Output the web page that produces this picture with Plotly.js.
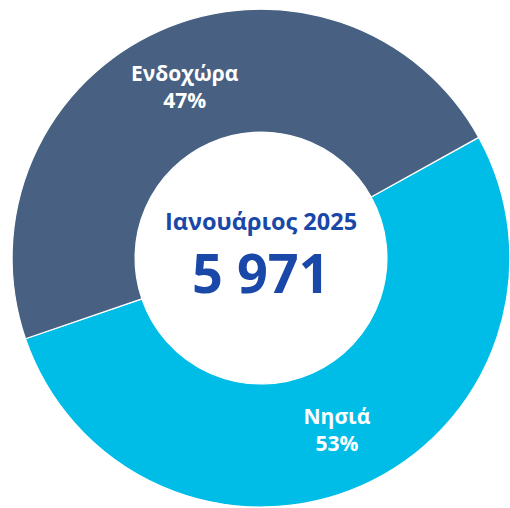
<!DOCTYPE html>
<html>
<head>
<meta charset="utf-8">
<script src="https://cdn.plot.ly/plotly-3.0.1.min.js"></script>
<style>html,body{margin:0;padding:0;background:#fff;}#chart{width:510px;height:508px;}</style>
</head>
<body>
<div id="chart"></div>
<script>
const categories = ["Νησιά", "Ενδοχώρα"];
const values = [3153, 2818];
const colors = ["#00BDE8", "#486183"];
const centerTitle = "Ιανουάριος 2025";
const centerTotal = "5 971";

const trace = {
  type: "pie",
  labels: categories,
  values: values,
  hole: 0.506,
  sort: false,
  direction: "clockwise",
  rotation: 61,
  marker: { colors: colors, line: { color: "#ffffff", width: 1.2 } },
  texttemplate: "%{label}<br>%{percent:.0%}",
  textposition: "inside",
  insidetextorientation: "horizontal",
  textfont: { family: "Open Sans, sans-serif", size: 21, color: "#ffffff", weight: "bold" },
  hoverinfo: "none",
  domain: { x: [0.0235, 1.0], y: [0.002, 0.982] }
};

const layout = {
  width: 510, height: 508,
  margin: { l: 0, r: 0, t: 0, b: 0 },
  paper_bgcolor: "#ffffff",
  showlegend: false,
  uniformtext: { mode: "show", minsize: 21 },
  annotations: [
    { text: centerTitle, x: 261/510, y: 1 - 221/508, xref: "paper", yref: "paper",
      showarrow: false, xanchor: "center", yanchor: "middle",
      font: { family: "Open Sans, sans-serif", size: 23.5, color: "#1A48A8", weight: "bold" } },
    { text: centerTotal, x: 261/510, y: 1 - 272/508, xref: "paper", yref: "paper",
      showarrow: false, xanchor: "center", yanchor: "middle",
      font: { family: "Open Sans, sans-serif", size: 54, color: "#1A48A8", weight: "bold" } }
  ]
};

Plotly.newPlot("chart", [trace], layout, { displayModeBar: false, staticPlot: true });
</script>
</body>
</html>
